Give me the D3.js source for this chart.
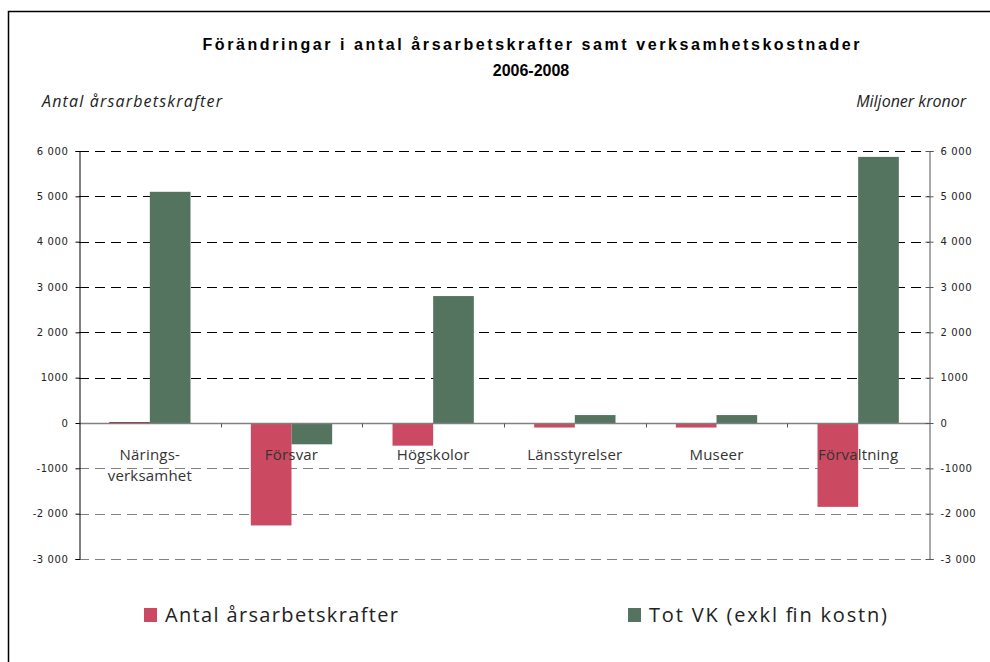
<!DOCTYPE html>
<html>
<head>
<meta charset="utf-8">
<script src="https://cdn.jsdelivr.net/npm/d3@7"></script>
<style>
  body { margin: 0; background: #fff; }
  svg { display: block; }
</style>
</head>
<body>
<div id="chart"></div>
<script>
// data
var categories = ["Närings-\nverksamhet", "Försvar", "Högskolor", "Länsstyrelser", "Museer", "Förvaltning"];
var seriesNames = ["Antal årsarbetskrafter", "Tot VK (exkl fin kostn)"];
var arsarbetskrafter = [20, -2260, -500, -100, -100, -1850];
var totVK = [5100, -470, 2800, 175, 175, 5870];
var tickValues = [-3000, -2000, -1000, 0, 1000, 2000, 3000, 4000, 5000, 6000];
var tickLabels = ["-3 000", "-2 000", "-1000", "0", "1000", "2 000", "3 000", "4 000", "5 000", "6 000"];
var colors = ["#cb4a62", "#557460"];

var width = 990, height = 662;
var plotLeft = 79, plotRight = 929, plotTop = 151, plotBottom = 559;

var svg = d3.select("#chart").append("svg")
    .attr("width", width)
    .attr("height", height);

// frame
svg.append("rect")
    .attr("x", 8.5).attr("y", 11.5)
    .attr("width", 1000).attr("height", 700)
    .attr("fill", "none").attr("stroke", "#000").attr("stroke-width", 1.5);

// title
svg.append("text")
    .attr("x", 531).attr("y", 50)
    .attr("text-anchor", "middle")
    .attr("textLength", 657).attr("lengthAdjust", "spacing")
    .style("font-family", "Liberation Sans Narrow, Liberation Sans, Arial, sans-serif")
    .style("font-size", "16px").style("font-weight", "bold")
    .text("Förändringar i antal årsarbetskrafter samt verksamhetskostnader");
svg.append("text")
    .attr("x", 531).attr("y", 76)
    .attr("text-anchor", "middle")
    .style("font-family", "Liberation Sans Narrow, Liberation Sans, Arial, sans-serif")
    .style("font-size", "16px").style("font-weight", "bold")
    .text("2006-2008");

svg.append("text")
    .attr("x", 42).attr("y", 107)
    .attr("textLength", 180).attr("lengthAdjust", "spacing")
    .style("font-family", "Open Sans, sans-serif")
    .style("font-size", "16px").style("font-style", "italic").style("fill", "#222")
    .text("Antal årsarbetskrafter");
svg.append("text")
    .attr("x", 966).attr("y", 107)
    .attr("text-anchor", "end")
    .style("font-family", "Open Sans, sans-serif")
    .style("font-size", "16px").style("font-style", "italic").style("fill", "#222")
    .text("Miljoner kronor");

// scales
var y = d3.scaleLinear().domain([-3000, 6000]).range([plotBottom, plotTop]);
var x0 = d3.scaleBand().domain(categories).range([plotLeft, plotRight])
    .paddingInner(0.426).paddingOuter(0.213);
var x1 = d3.scaleBand().domain(seriesNames).range([0, x0.bandwidth()]);

// gridlines
svg.append("g").selectAll("line")
    .data(tickValues.filter(function(d) { return d !== 0; }))
    .enter().append("line")
    .attr("x1", plotLeft).attr("x2", plotRight)
    .attr("y1", function(d) { return Math.round(y(d)) + 0.5; })
    .attr("y2", function(d) { return Math.round(y(d)) + 0.5; })
    .attr("stroke", function(d) { return d > 0 ? "#000" : "#808080"; })
    .attr("stroke-width", 1)
    .attr("stroke-dasharray", "10,6");

// bars
var rows = categories.map(function(c, i) {
    return { cat: c, values: [
        { name: seriesNames[0], value: arsarbetskrafter[i], color: colors[0] },
        { name: seriesNames[1], value: totVK[i], color: colors[1] }
    ]};
});

var groups = svg.append("g").selectAll("g")
    .data(rows).enter().append("g")
    .attr("transform", function(d) { return "translate(" + x0(d.cat) + ",0)"; });

groups.selectAll("rect")
    .data(function(d) { return d.values; })
    .enter().append("rect")
    .attr("x", function(d) { return x1(d.name); })
    .attr("width", x1.bandwidth())
    .attr("y", function(d) { return y(Math.max(0, d.value)); })
    .attr("height", function(d) { return Math.max(1, Math.abs(y(d.value) - y(0))); })
    .attr("fill", function(d) { return d.value > 0 && d.value < 50 ? "#8a2233" : d.color; });

// zero line with category ticks
var zeroY = Math.round(y(0)) + 0.5;
svg.append("line")
    .attr("x1", plotLeft).attr("x2", plotRight)
    .attr("y1", zeroY).attr("y2", zeroY)
    .attr("stroke", "#808080").attr("stroke-width", 1.5);
svg.append("g").selectAll("line")
    .data(categories.slice(1))
    .enter().append("line")
    .attr("x1", function(d) { return Math.round(x0(d) - x0.step() * x0.paddingInner() / 2) + 0.5; })
    .attr("x2", function(d) { return Math.round(x0(d) - x0.step() * x0.paddingInner() / 2) + 0.5; })
    .attr("y1", zeroY).attr("y2", zeroY + 4)
    .attr("stroke", "#555");

// axes
var yAxisLeft = d3.axisLeft(y)
    .tickValues(tickValues)
    .tickSize(4).tickPadding(7)
    .tickFormat(function(d, i) { return tickLabels[i]; });
var yAxisRight = d3.axisRight(y)
    .tickValues(tickValues)
    .tickSize(4).tickPadding(7)
    .tickFormat(function(d, i) { return tickLabels[i]; });

var gl = svg.append("g").attr("transform", "translate(" + (plotLeft + 0.5) + ",0)").call(yAxisLeft);
var gr = svg.append("g").attr("transform", "translate(" + (plotRight + 0.5) + ",0)").call(yAxisRight);
gr.selectAll(".tick line").attr("x1", -4);
gl.select(".domain").attr("stroke", "#000");
gr.select(".domain").attr("stroke", "#555");
gr.selectAll(".tick line").attr("stroke", "#555");
[gl, gr].forEach(function(g) {
    g.selectAll("text")
        .style("font-family", "DejaVu Sans, Verdana, sans-serif")
        .style("font-size", "10px")
        .style("letter-spacing", "0.6px")
        .attr("fill", "#222");
});

// category labels
var labels = svg.append("g").selectAll("text")
    .data(categories).enter().append("text")
    .attr("x", function(d) { return x0(d) + x0.bandwidth() / 2; })
    .attr("y", 460)
    .attr("text-anchor", "middle")
    .style("font-family", "Open Sans, sans-serif")
    .style("font-size", "15px")
    .style("letter-spacing", "0.2px")
    .style("fill", "#333");
labels.each(function(d) {
    var parts = d.split("\n");
    var t = d3.select(this);
    parts.forEach(function(p, i) {
        t.append("tspan")
            .attr("x", t.attr("x"))
            .attr("dy", i === 0 ? 0 : 21)
            .text(p);
    });
});

// legend
var legendX = [144, 628];
var legendLen = [233, 238];
var legend = svg.append("g").selectAll("g")
    .data(seriesNames).enter().append("g")
    .attr("transform", function(d, i) { return "translate(" + legendX[i] + ",608)"; });
legend.append("rect")
    .attr("width", 13).attr("height", 14)
    .attr("fill", function(d, i) { return colors[i]; });
legend.append("text")
    .attr("x", 21).attr("y", 14)
    .attr("textLength", function(d, i) { return legendLen[i]; })
    .attr("lengthAdjust", "spacing")
    .style("font-family", "Open Sans, sans-serif")
    .style("font-size", "20px")
    .style("fill", "#222")
    .text(function(d) { return d; });
</script>
</body>
</html>
